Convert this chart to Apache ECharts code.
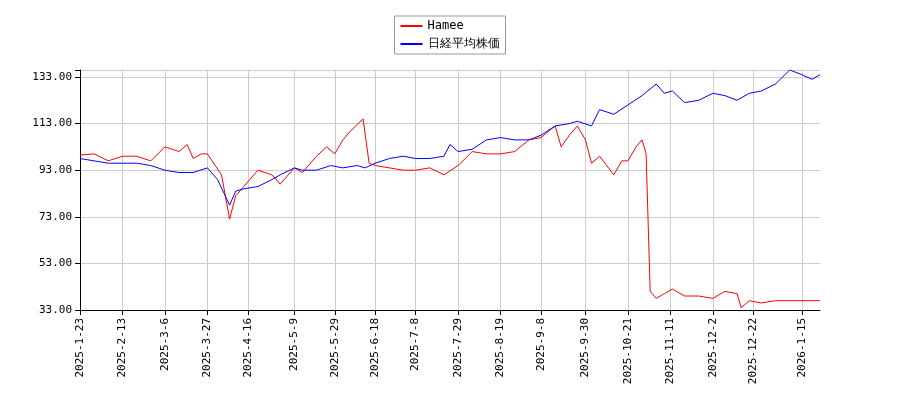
<!DOCTYPE html>
<html>
<head>
<meta charset="utf-8">
<script src="https://cdn.jsdelivr.net/npm/echarts@6/dist/echarts.min.js"></script>
<style>html,body{margin:0;padding:0;background:#fff}#chart{width:900px;height:400px}</style>
</head>
<body>
<div id="chart"></div>
<script>
const hameeDates = ['2025-1-23','2025-1-30','2025-2-6','2025-2-13','2025-2-20','2025-2-27','2025-3-6','2025-3-13','2025-3-17','2025-3-20','2025-3-24','2025-3-27','2025-4-3','2025-4-7','2025-4-10','2025-4-14','2025-4-21','2025-4-28','2025-5-2','2025-5-9','2025-5-13','2025-5-20','2025-5-25','2025-5-29','2025-6-2','2025-6-6','2025-6-12','2025-6-15','2025-6-18','2025-6-25','2025-7-2','2025-7-8','2025-7-15','2025-7-22','2025-7-29','2025-8-5','2025-8-12','2025-8-19','2025-8-26','2025-9-2','2025-9-8','2025-9-15','2025-9-18','2025-9-22','2025-9-26','2025-9-30','2025-10-3','2025-10-7','2025-10-14','2025-10-18','2025-10-21','2025-10-25','2025-10-28','2025-10-30','2025-11-1','2025-11-4','2025-11-8','2025-11-12','2025-11-18','2025-11-25','2025-12-2','2025-12-8','2025-12-14','2025-12-16','2025-12-20','2025-12-26','2026-1-2','2026-1-9','2026-1-15','2026-1-24'];
const hameeValues = [99.5,100,97,99,99,97,103,101,104,98,100,100,91,72,82,86,93,91,87,94,92,99,103,100,106,110,115,96,95,94,93,93,94,91,95,101,100,100,101,106,107,112,103,108,112,106,96,99,91,97,97,103,106,100,41,38,40,42,39,39,38,41,40,34,37,36,37,37,37,37];
const nikkeiDates = ['2025-1-23','2025-1-30','2025-2-6','2025-2-13','2025-2-20','2025-2-27','2025-3-6','2025-3-13','2025-3-20','2025-3-27','2025-4-1','2025-4-7','2025-4-10','2025-4-14','2025-4-21','2025-4-28','2025-5-2','2025-5-9','2025-5-13','2025-5-20','2025-5-27','2025-6-2','2025-6-9','2025-6-13','2025-6-18','2025-6-25','2025-7-2','2025-7-8','2025-7-15','2025-7-22','2025-7-25','2025-7-29','2025-8-5','2025-8-12','2025-8-19','2025-8-26','2025-9-2','2025-9-8','2025-9-15','2025-9-22','2025-9-26','2025-10-3','2025-10-7','2025-10-14','2025-10-21','2025-10-28','2025-11-4','2025-11-8','2025-11-12','2025-11-18','2025-11-25','2025-12-2','2025-12-8','2025-12-14','2025-12-20','2025-12-26','2026-1-2','2026-1-9','2026-1-15','2026-1-20','2026-1-24'];
const nikkeiValues = [98,97,96,96,96,95,93,92,92,94,89,78,84,85,86,89,91,94,93,93,95,94,95,94,96,98,99,98,98,99,104,101,102,106,107,106,106,108,112,113,114,112,119,117,121,125,130,126,127,122,123,126,125,123,126,127,130,136,134,132,134];
const xTickLabels = ['2025-1-23','2025-2-13','2025-3-6','2025-3-27','2025-4-16','2025-5-9','2025-5-29','2025-6-18','2025-7-8','2025-7-29','2025-8-19','2025-9-8','2025-9-30','2025-10-21','2025-11-11','2025-12-2','2025-12-22','2026-1-15'];
const yTicks = [33, 53, 73, 93, 113, 133];

// category axis: every calendar day
const days = [];
for (let d = new Date(2025, 0, 23); d <= new Date(2026, 0, 24); d.setDate(d.getDate() + 1)) {
  days.push(d.getFullYear() + '-' + (d.getMonth() + 1) + '-' + d.getDate());
}
function toSeries(dates, vals) {
  const m = {};
  dates.forEach((k, i) => { m[k] = vals[i]; });
  return days.map(k => (k in m ? m[k] : null));
}
const showTick = (i, v) => xTickLabels.includes(v);

const chart = echarts.init(document.getElementById('chart'));
chart.setOption({
  animation: false,
  textStyle: { fontFamily: 'DejaVu Sans Mono' },
  legend: {
    top: 16, left: 'center', orient: 'vertical',
    itemWidth: 22, itemHeight: 2, icon: 'rect', itemGap: 6,
    borderColor: '#999', borderWidth: 1, borderRadius: 0, padding: [4, 6],
    textStyle: { fontSize: 12, color: '#000' },
    data: ['Hamee', '日経平均株価']
  },
  grid: { left: 80, right: 80, top: 70, bottom: 90 },
  xAxis: {
    type: 'category', data: days, boundaryGap: false,
    axisLine: { lineStyle: { color: '#000' } },
    axisTick: { interval: showTick, lineStyle: { color: '#000' } },
    axisLabel: { interval: showTick, rotate: 90, color: '#000', fontSize: 11 },
    splitLine: { show: true, interval: showTick, lineStyle: { color: '#ccc' } }
  },
  yAxis: {
    type: 'value', min: 33, max: 136, interval: 20,
    axisLine: { show: true, lineStyle: { color: '#000' } },
    axisTick: { show: true },
    axisLabel: { color: '#000', fontSize: 11, formatter: v => yTicks.includes(v) ? v.toFixed(2) : '' },
    splitLine: { lineStyle: { color: '#ccc' } }
  },
  series: [
    { name: 'Hamee', type: 'line', data: toSeries(hameeDates, hameeValues), connectNulls: true, showSymbol: false, lineStyle: { color: '#ff0000', width: 1 }, itemStyle: { color: '#ff0000' } },
    { name: '日経平均株価', type: 'line', data: toSeries(nikkeiDates, nikkeiValues), connectNulls: true, showSymbol: false, lineStyle: { color: '#0000ff', width: 1 }, itemStyle: { color: '#0000ff' } }
  ]
});
</script>
</body>
</html>
